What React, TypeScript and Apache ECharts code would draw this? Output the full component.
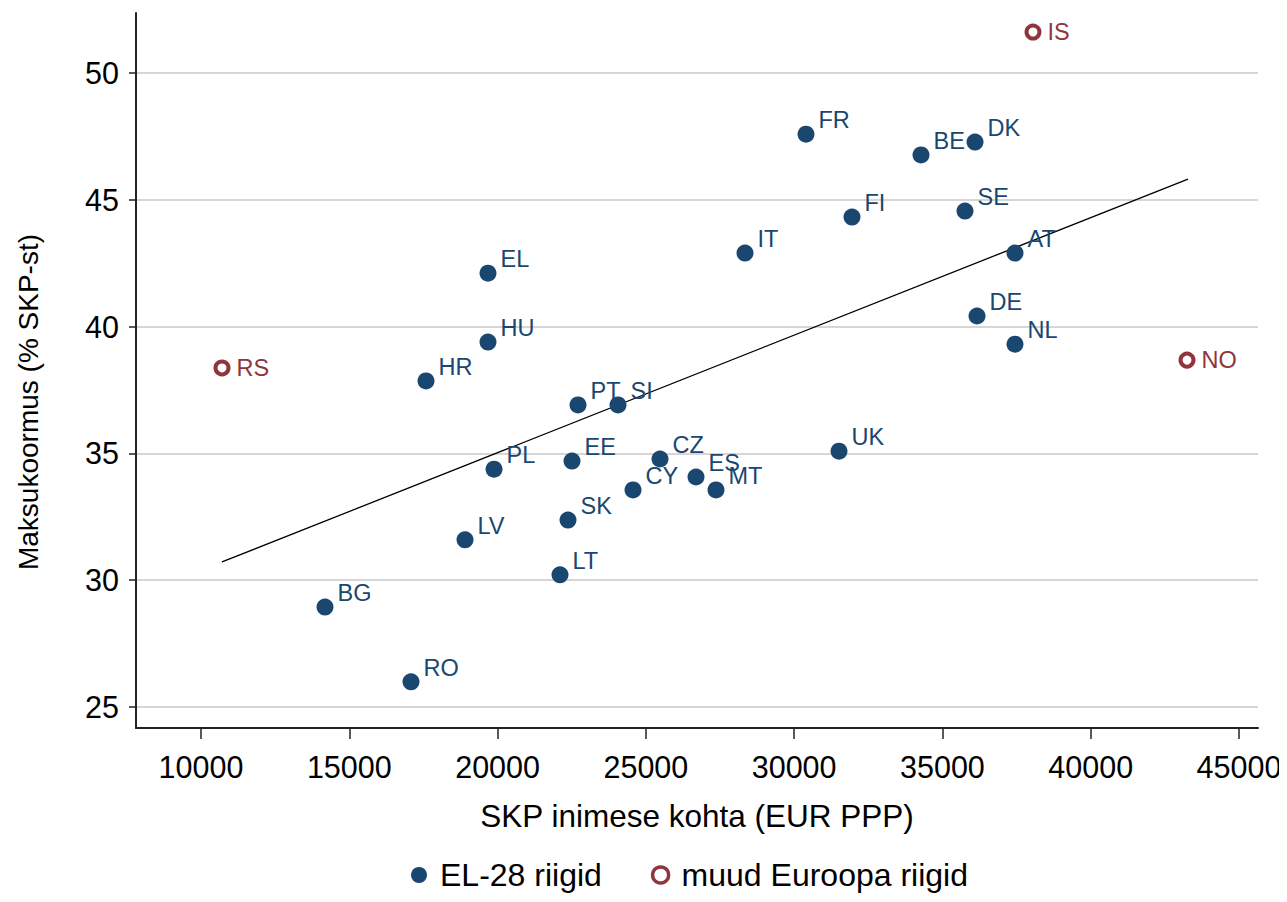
import React, { useEffect, useRef } from "react";
import * as echarts from "echarts";

const euCodes = ["BG","RO","HR","LV","EL","HU","PL","LT","SK","EE","PT","SI","CY","CZ","ES","MT","IT","FR","UK","FI","BE","SE","DK","DE","AT","NL"];
const euGdp = [14181,17081,17587,18902,19677,19677,19880,22105,22375,22510,22712,24061,24567,25477,26691,27365,28343,30400,31513,31951,34278,35761,36099,36166,37447,37447];
const euTax = [28.94,25.99,37.86,31.59,42.11,39.39,34.38,30.21,32.37,34.70,36.91,36.91,33.56,34.78,34.07,33.56,42.90,47.59,35.09,44.32,46.77,44.56,47.28,40.42,42.90,39.31];

const otherCodes = ["RS","IS","NO"];
const otherGdp = [10708,38054,43247];
const otherTax = [38.37,51.62,38.68];

const fitGdp = [10708,43281];
const fitTax = [30.72,45.82];

const xTicks = [10000,15000,20000,25000,30000,35000,40000,45000];
const yTicks = [25,30,35,40,45,50];

const NAVY = "#1a476f";
const MAROON = "#90353b";
const FONT = "'Liberation Sans', Arial, Helvetica, sans-serif";

export default function App() {
  const ref = useRef<HTMLDivElement>(null);
  useEffect(() => {
    if (!ref.current) return;
    const chart = echarts.init(ref.current, undefined, { renderer: "svg" });
    const euData = euCodes.map((c, i) => ({ name: c, value: [euGdp[i], euTax[i]] }));
    const otherData = otherCodes.map((c, i) => ({ name: c, value: [otherGdp[i], otherTax[i]] }));
    chart.setOption({
      animation: false,
      backgroundColor: "#ffffff",
      textStyle: { fontFamily: FONT },
      grid: { left: 136, right: 29, top: 13, bottom: 174, containLabel: false },
      xAxis: {
        type: "value",
        min: 7808,
        max: 45641,
        name: "SKP inimese kohta (EUR PPP)",
        nameLocation: "middle",
        nameGap: 72,
        nameTextStyle: { fontSize: 31.5, color: "#000", fontFamily: FONT },
        axisLine: { show: true, onZero: false, lineStyle: { color: "#222", width: 2 } },
        axisTick: { show: true, length: 11, customValues: xTicks, lineStyle: { color: "#222", width: 1.5 } },
        axisLabel: {
          customValues: xTicks,
          margin: 23,
          fontSize: 30.5,
          color: "#000",
          fontFamily: FONT,
          formatter: (v: number) => String(v),
        },
        splitLine: { show: false },
      },
      yAxis: {
        type: "value",
        min: 24.17,
        max: 52.37,
        axisLine: { show: true, onZero: false, lineStyle: { color: "#222", width: 2 } },
        axisTick: { show: true, length: 7, customValues: yTicks, lineStyle: { color: "#222", width: 1.5 } },
        axisLabel: {
          customValues: yTicks,
          margin: 17,
          fontSize: 30.5,
          color: "#000",
          fontFamily: FONT,
          formatter: (v: number) => String(v),
        },
        splitLine: { show: true, lineStyle: { color: "#c8c8c8", width: 1.5 } },
      },
      legend: {
        top: 852,
        left: 406,
        padding: 5,
        itemWidth: 16,
        itemHeight: 16,
        itemGap: 49,
        textStyle: { fontSize: 32, lineHeight: 36, color: "#000", fontFamily: FONT, padding: [0, 0, 0, 8] },
        data: [
          { name: "EL-28 riigid", icon: "circle", itemStyle: { color: NAVY, borderWidth: 0 } },
          {
            name: "muud Euroopa riigid",
            icon: "circle",
            itemStyle: { color: "#fff", borderColor: MAROON, borderWidth: 3.5 },
          },
        ],
      },
      graphic: [
        {
          type: "text",
          x: 28,
          y: 402,
          rotation: Math.PI / 2,
          style: {
            text: "Maksukoormus (% SKP-st)",
            fontSize: 28,
            fontFamily: FONT,
            fill: "#000",
            align: "center",
            verticalAlign: "middle",
          },
        },
      ],
      series: [
        {
          name: "fit",
          type: "line",
          data: fitGdp.map((g, i) => [g, fitTax[i]]),
          showSymbol: false,
          symbol: "none",
          lineStyle: { color: "#000", width: 1.3 },
          silent: true,
          z: 1,
        },
        {
          name: "EL-28 riigid",
          type: "scatter",
          symbol: "circle",
          symbolSize: 17,
          itemStyle: { color: NAVY, opacity: 1 },
          data: euData,
          label: {
            show: true,
            position: "right",
            distance: 4,
            offset: [0, -14],
            formatter: "{b}",
            fontSize: 23.5,
            color: NAVY,
            fontFamily: FONT,
          },
          z: 3,
        },
        {
          name: "muud Euroopa riigid",
          type: "scatter",
          symbol: "circle",
          symbolSize: 13,
          itemStyle: { color: "#ffffff", borderColor: MAROON, borderWidth: 4, opacity: 1 },
          data: otherData,
          label: {
            show: true,
            position: "right",
            distance: 6,
            formatter: "{b}",
            fontSize: 23.5,
            color: MAROON,
            fontFamily: FONT,
          },
          z: 3,
        },
      ],
    });
    return () => chart.dispose();
  }, []);
  return <div ref={ref} style={{ width: 1287, height: 902, margin: -8 }} />;
}
